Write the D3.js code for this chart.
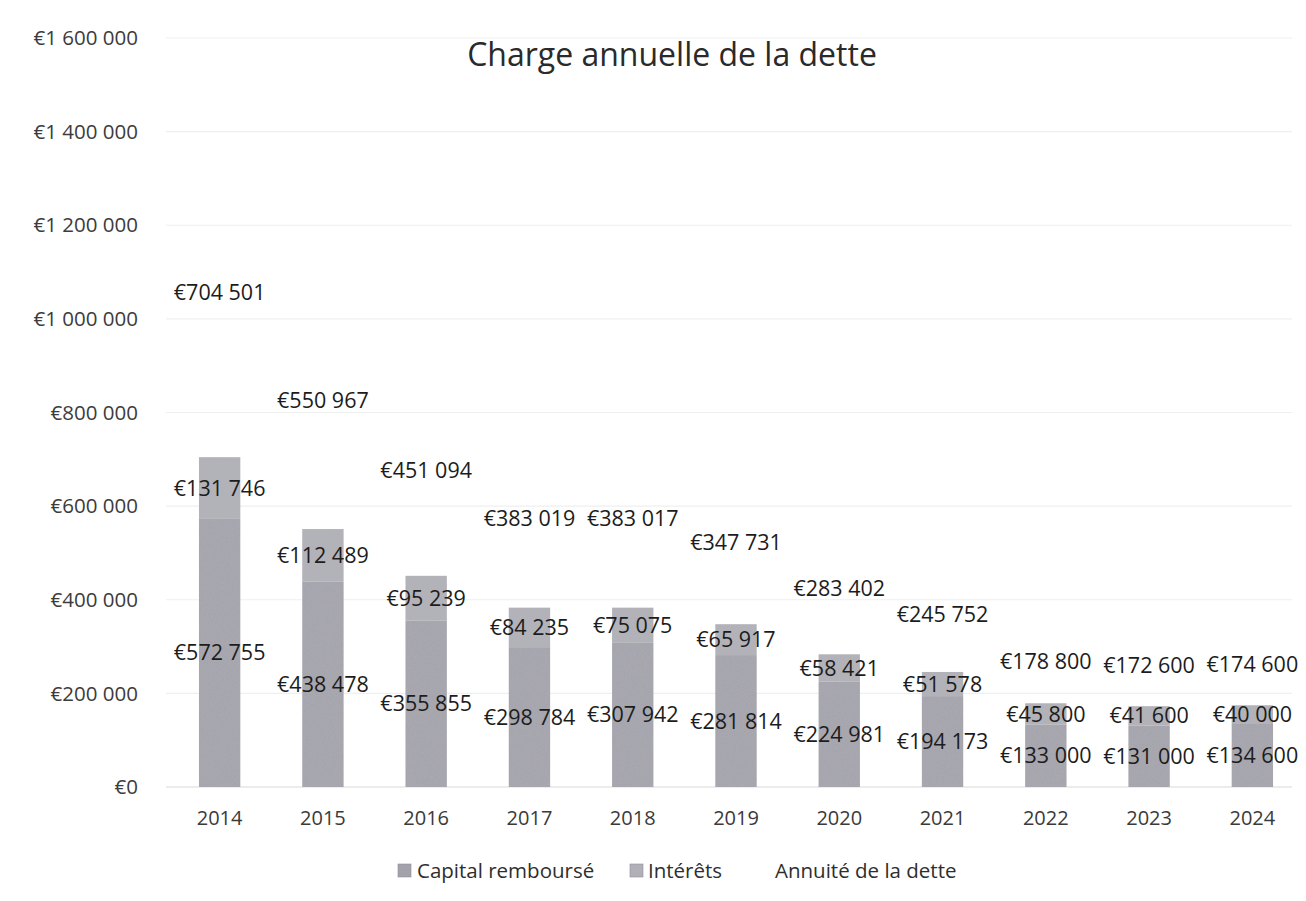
<!DOCTYPE html>
<html>
<head>
<meta charset="utf-8">
<script src="https://cdn.jsdelivr.net/npm/d3@7"></script>
<style>
  html, body { margin: 0; padding: 0; background: #ffffff; }
  svg { display: block; font-family: "Open Sans", "Noto Sans", sans-serif; }
</style>
</head>
<body>
<svg id="chart" width="1306" height="901"></svg>
<script>
// Annual debt service, 2014–2024
const years = ["2014", "2015", "2016", "2017", "2018", "2019", "2020", "2021", "2022", "2023", "2024"];
const capital = [572755, 438478, 355855, 298784, 307942, 281814, 224981, 194173, 133000, 131000, 134600];
const interets = [131746, 112489, 95239, 84235, 75075, 65917, 58421, 51578, 45800, 41600, 40000];
const annuite = [704501, 550967, 451094, 383019, 383017, 347731, 283402, 245752, 178800, 172600, 174600];
const yTicks = [0, 200000, 400000, 600000, 800000, 1000000, 1200000, 1400000, 1600000];
const seriesNames = ["Capital remboursé", "Intérêts", "Annuité de la dette"];

const colCapital = "#a3a2ab";
const colInterets = "#b1b0b8";

const fr = d3.formatLocale({ decimal: ",", thousands: "\u00a0", grouping: [3], currency: ["€", ""] });
const euro = fr.format("$,.0f");

const svg = d3.select("#chart");

const x = d3.scaleBand().domain(years).range([168, 1304]).paddingInner(0.6).paddingOuter(0.3);
const y = d3.scaleLinear().domain([0, 1600000]).range([787, 38]);

// gridlines
svg.append("g").selectAll("line").data(yTicks).join("line")
  .attr("x1", 166).attr("x2", 1292)
  .attr("y1", d => y(d)).attr("y2", d => y(d))
  .attr("stroke", d => d === 0 ? "#dadada" : "#efefef")
  .attr("stroke-width", 1.2);

// y-axis labels
svg.append("g").selectAll("text").data(yTicks).join("text")
  .attr("x", 138).attr("y", d => y(d)).attr("dy", "0.35em")
  .attr("text-anchor", "end")
  .attr("font-size", 20.5).attr("fill", "#3c3c3c")
  .text(d => euro(d));

// x-axis labels
svg.append("g").selectAll("text").data(years).join("text")
  .attr("x", d => x(d) + x.bandwidth() / 2).attr("y", 818).attr("dy", "0.35em")
  .attr("text-anchor", "middle")
  .attr("font-size", 20).attr("fill", "#3a3a3a")
  .text(d => d);

// stacked series: capital, interest, and an unfilled annuity segment on top
const rows = years.map((yr, i) => ({ year: yr, c: capital[i], it: interets[i], a: annuite[i] }));
const stack = d3.stack().keys(["c", "it", "a"])(rows);
const fills = [colCapital, colInterets, "none"];

// grain texture for the bar fills
const defs = svg.append("defs");
const flt = defs.append("filter").attr("id", "grain").attr("x", 0).attr("y", 0).attr("width", 1).attr("height", 1);
flt.append("feTurbulence").attr("type", "fractalNoise").attr("baseFrequency", 1.1).attr("numOctaves", 2).attr("seed", 4).attr("result", "noise");
flt.append("feColorMatrix").attr("in", "noise").attr("type", "matrix")
  .attr("values", "0 0 0 0 0.5  0 0 0 0 0.5  0 0 0 0 0.52  0 0 0 0.35 0").attr("result", "tint");
flt.append("feComposite").attr("in", "tint").attr("in2", "SourceGraphic").attr("operator", "in").attr("result", "g");
flt.append("feMerge").selectAll("feMergeNode").data(["SourceGraphic", "g"]).join("feMergeNode").attr("in", d => d);

stack.forEach((layer, k) => {
  if (fills[k] === "none") return;
  svg.append("g").selectAll("rect").data(layer).join("rect")
    .attr("x", d => x(d.data.year))
    .attr("width", x.bandwidth())
    .attr("y", d => y(d[1]))
    .attr("height", d => y(d[0]) - y(d[1]))
    .attr("fill", fills[k])
    .attr("filter", "url(#grain)");
});

// value labels centred on each segment
const labelVals = [capital, interets, annuite];
stack.forEach((layer, k) => {
  svg.append("g").selectAll("text").data(layer).join("text")
    .attr("x", d => x(d.data.year) + x.bandwidth() / 2)
    .attr("y", d => y((d[0] + d[1]) / 2)).attr("dy", "0.35em")
    .attr("text-anchor", "middle")
    .attr("font-size", 21.5).attr("fill", "#1c1c1c")
    .text((d, i) => euro(labelVals[k][i]));
});

// title
svg.append("text")
  .attr("x", 672).attr("y", 55).attr("dy", "0.35em")
  .attr("text-anchor", "middle")
  .attr("font-size", 32).attr("fill", "#2a2a2a")
  .text("Charge annuelle de la dette");

// legend
const legend = svg.append("g");
const legendItems = [
  { name: seriesNames[0], color: colCapital, sx: 398, tx: 417 },
  { name: seriesNames[1], color: colInterets, sx: 630, tx: 648 },
  { name: seriesNames[2], color: null, sx: null, tx: 775 }
];
legendItems.forEach(it => {
  if (it.color) {
    legend.append("rect").attr("x", it.sx).attr("y", 864).attr("width", 13).attr("height", 13)
      .attr("fill", it.color).attr("stroke", "#8f8e96").attr("stroke-width", 0.6);
  }
  legend.append("text")
    .attr("x", it.tx).attr("y", 871).attr("dy", "0.35em")
    .attr("font-size", 20.5).attr("fill", "#2e2e2e")
    .text(it.name);
});
</script>
</body>
</html>
